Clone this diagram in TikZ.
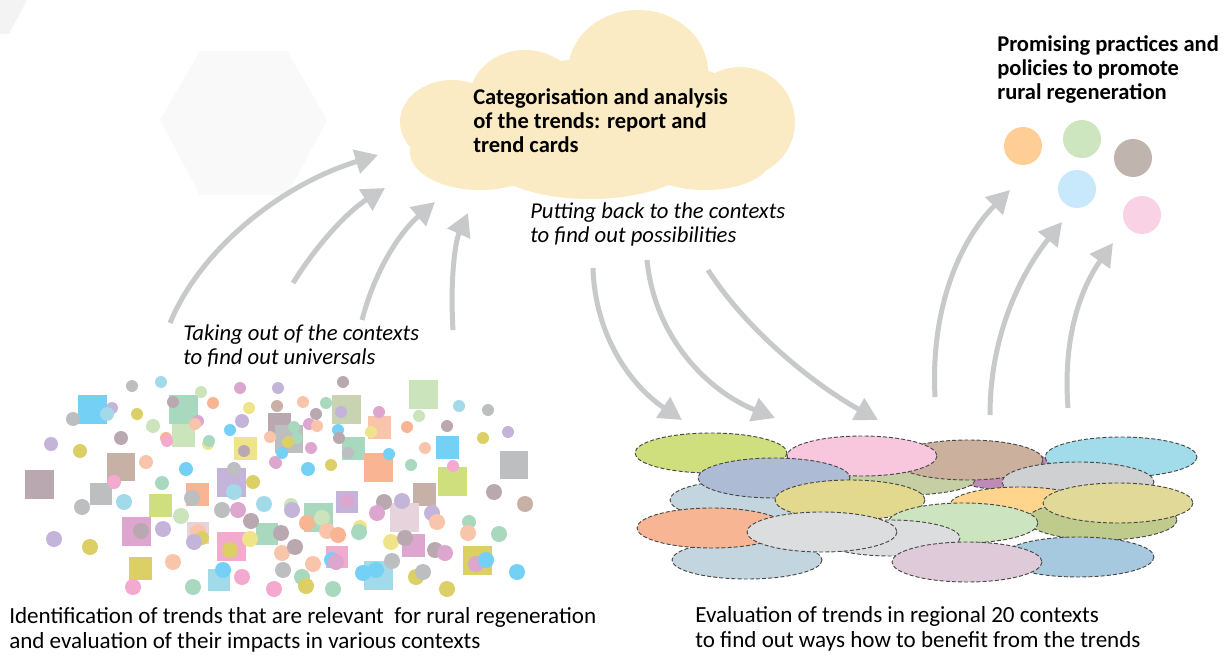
\documentclass[tikz,border=0pt]{standalone}
\usepackage{fontspec}
\setmainfont{Carlito}
\usetikzlibrary{arrows.meta}

% scatter palette
\definecolor{gray}{HTML}{BDBEC0}
\definecolor{lb}{HTML}{A3DAE9}
\definecolor{sky}{HTML}{74D0F5}
\definecolor{lav}{HTML}{C4B4DA}
\definecolor{mauve}{HTML}{B9A8B0}
\definecolor{taupe}{HTML}{C7B1A7}
\definecolor{pink}{HTML}{F4A9CE}
\definecolor{orchid}{HTML}{DDA6CE}
\definecolor{peach}{HTML}{F8C5AB}
\definecolor{salmon}{HTML}{F8B493}
\definecolor{mint}{HTML}{A8D8BE}
\definecolor{lgreen}{HTML}{CCE4BB}
\definecolor{ygreen}{HTML}{CFDF7E}
\definecolor{olive}{HTML}{DBCF66}
\definecolor{pyellow}{HTML}{F0E48A}
\definecolor{sage}{HTML}{C8D3B2}
\definecolor{ppink}{HTML}{E6D3DB}
% context ellipses
\definecolor{eYgreen}{HTML}{D0DF7D}
\definecolor{ePink}{HTML}{F8C6DD}
\definecolor{eBluegray}{HTML}{AEBBD4}
\definecolor{eLblue}{HTML}{C3D6DF}
\definecolor{eYellow}{HTML}{E2D98E}
\definecolor{eOrange}{HTML}{F8B594}
\definecolor{eLgray}{HTML}{DCDDDF}
\definecolor{eBrown}{HTML}{CBB09D}
\definecolor{ePurple}{HTML}{BE8AB6}
\definecolor{eCyan}{HTML}{A2DCEA}
\definecolor{eGray}{HTML}{CFD0D2}
\definecolor{eOrange2}{HTML}{FFD58E}
\definecolor{eKhaki}{HTML}{E0D998}
\definecolor{eOlive}{HTML}{BECB8C}
\definecolor{eLgreen}{HTML}{CCE5C0}
\definecolor{eMauve}{HTML}{DECAD8}
\definecolor{eBlue}{HTML}{A7C9DF}
\definecolor{eSage}{HTML}{C5CFA3}
% practice dots
\definecolor{pOrange}{HTML}{FECE96}
\definecolor{pGreen}{HTML}{CDE6C0}
\definecolor{pTaupe}{HTML}{BFB5AE}
\definecolor{pBlue}{HTML}{C8E9FB}
\definecolor{pPink}{HTML}{F9D3E5}
% misc
\definecolor{cloudfill}{HTML}{FAEBC5}
\definecolor{arrowgray}{HTML}{C8C9CB}
\definecolor{hexA}{HTML}{F9F9F9}
\definecolor{hexB}{HTML}{F3F3F3}

\newcommand\scsq[4]{\fill[#4] ({#1-#3/2},{#2-#3/2}) rectangle ++(#3,#3);}
\newcommand\scdot[4]{\fill[#4] (#1,#2) circle[radius=#3];}
\newcommand\ctxell[5]{\draw[ctx,fill=#5] (#1,#2) ellipse[x radius=#3,y radius=#4];}

\begin{document}
\begin{tikzpicture}[x=0.75pt,y=-0.75pt,
  flow/.style={draw=arrowgray,line width=3.75pt,-{Triangle[length=17pt,width=18pt]}},
  ctx/.style={draw=black!72,line width=0.7pt,dash pattern=on 3pt off 1.6pt},
  caption/.style={anchor=base west,align=left,inner sep=0pt,font=\fontsize{17.3}{18.75}\selectfont},
  bold/.style={anchor=base west,align=left,inner sep=0pt,font=\fontsize{16.9}{18.2}\selectfont\bfseries},
  note/.style={anchor=base west,align=left,inner sep=0pt,font=\fontsize{17}{18}\selectfont\itshape},
  practice/.style={circle,minimum size=28.5pt,inner sep=0pt}]

\useasboundingbox[fill=white] (0,0) rectangle (1228,656);

% faint background hexagons
\fill[hexB] (0,0) -- (27,0) -- (9,34) -- (0,34) -- cycle;
\fill[hexA] (160,120) -- (200,51) -- (287,51) -- (327,120) -- (287,195) -- (200,195) -- cycle;

% cloud
\begin{scope}[fill=cloudfill]
  \fill (638,72) ellipse[x radius=70,y radius=62];
  \fill (525,100) ellipse[x radius=56,y radius=50];
  \fill (452,122) ellipse[x radius=52,y radius=42];
  \fill (480,152) ellipse[x radius=70,y radius=38];
  \fill (590,152) ellipse[x radius=110,y radius=47];
  \fill (740,122) ellipse[x radius=55,y radius=55];
  \fill (705,160) ellipse[x radius=65,y radius=30];
  \fill (610,120) ellipse[x radius=160,y radius=62];
\end{scope}
% the base anchor of a multi-line node sits on its last line
\node[bold] (cloudtext) at (473,153) {Categorisation and analysis\\of the trends: report and\\trend cards};

% trends scattered across contexts: squares
\scsq{92}{409}{29}{sky}
\scsq{183}{409}{29}{mint}
\scsq{183}{435}{23}{lgreen}
\scsq{245}{448}{23}{pyellow}
\scsq{121}{467}{28}{taupe}
\scsq{39}{484}{29}{mauve}
\scsq{101}{494}{22}{gray}
\scsq{160}{505}{23}{ygreen}
\scsq{197}{494}{23}{salmon}
\scsq{231}{482}{29}{lav}
\scsq{136}{531}{29}{orchid}
\scsq{198}{533}{22}{ppink}
\scsq{231}{546}{29}{pink}
\scsq{140}{568}{23}{olive}
\scsq{219}{580}{22}{lb}
\scsq{267}{534}{22}{mint}
\scsq{279}{424}{23}{mauve}
\scsq{289}{439}{28}{gray}
\scsq{423}{394}{29}{lgreen}
\scsq{346}{409}{29}{sage}
\scsq{379}{427}{23}{peach}
\scsq{353}{448}{23}{mint}
\scsq{447}{447}{23}{sky}
\scsq{378}{467}{29}{salmon}
\scsq{452}{481}{29}{ygreen}
\scsq{514}{465}{28}{gray}
\scsq{424}{494}{23}{taupe}
\scsq{347}{502}{22}{lav}
\scsq{318}{517}{29}{mint}
\scsq{404}{517}{29}{ppink}
\scsq{413}{545}{23}{orchid}
\scsq{337}{557}{22}{pink}
\scsq{477}{560}{29}{olive}
\scsq{378}{575}{29}{lb}

% trends scattered across contexts: dots
\scdot{132}{386}{6}{gray}
\scdot{161}{382}{6}{lb}
\scdot{201}{392}{6}{lgreen}
\scdot{240}{388}{6}{orchid}
\scdot{112}{408}{6}{lav}
\scdot{107}{414}{7}{lb}
\scdot{73}{419}{7}{gray}
\scdot{137}{414}{6}{olive}
\scdot{173}{402}{6}{mauve}
\scdot{213}{403}{6}{salmon}
\scdot{249}{408}{6}{pyellow}
\scdot{153}{426}{7}{lgreen}
\scdot{121}{438}{7}{mauve}
\scdot{198}{421}{6}{orchid}
\scdot{195}{424}{6}{peach}
\scdot{230}{430}{6}{sky}
\scdot{242}{421}{7}{lav}
\scdot{166}{438}{6}{salmon}
\scdot{167}{441}{6}{pink}
\scdot{208}{444}{6}{pyellow}
\scdot{209}{441}{6}{mint}
\scdot{51}{444}{7}{lav}
\scdot{80}{451}{7}{olive}
\scdot{146}{462}{7}{peach}
\scdot{186}{469}{7}{sky}
\scdot{244}{451}{6}{mauve}
\scdot{234}{469}{7}{gray}
\scdot{275}{462}{6}{orchid}
\scdot{270}{437}{6}{peach}
\scdot{114}{482}{7}{pink}
\scdot{162}{483}{7}{mint}
\scdot{124}{502}{8}{lb}
\scdot{82}{507}{8}{gray}
\scdot{192}{498}{8}{gray}
\scdot{234}{492}{8}{lb}
\scdot{253}{482}{7}{olive}
\scdot{181}{516}{8}{lgreen}
\scdot{222}{510}{8}{gray}
\scdot{238}{510}{8}{orchid}
\scdot{264}{504}{8}{lb}
\scdot{251}{521}{8}{mauve}
\scdot{54}{539}{8}{lav}
\scdot{90}{547}{8}{olive}
\scdot{141}{531}{8}{mauve}
\scdot{163}{529}{8}{lav}
\scdot{198}{532}{8}{peach}
\scdot{202}{538}{7}{olive}
\scdot{194}{542}{8}{lav}
\scdot{230}{550}{8}{olive}
\scdot{250}{539}{8}{pyellow}
\scdot{173}{562}{8}{peach}
\scdot{133}{587}{8}{pink}
\scdot{193}{587}{8}{mint}
\scdot{223}{570}{8}{sky}
\scdot{242}{577}{8}{pink}
\scdot{343}{382}{6}{mauve}
\scdot{278}{388}{6}{lav}
\scdot{303}{402}{6}{peach}
\scdot{326}{403}{6}{mint}
\scdot{277}{406}{6}{taupe}
\scdot{316}{414}{6}{mauve}
\scdot{309}{424}{6}{orchid}
\scdot{317}{426}{6}{peach}
\scdot{341}{412}{6}{lav}
\scdot{379}{412}{6}{orchid}
\scdot{459}{406}{6}{lb}
\scdot{488}{410}{6}{gray}
\scdot{419}{416}{6}{lgreen}
\scdot{407}{427}{6}{salmon}
\scdot{447}{426}{6}{mauve}
\scdot{371}{432}{6}{pyellow}
\scdot{338}{430}{6}{sky}
\scdot{339}{438}{6}{mauve}
\scdot{508}{432}{6}{lav}
\scdot{483}{438}{6}{olive}
\scdot{294}{427}{6}{mint}
\scdot{297}{438}{6}{mint}
\scdot{288}{442}{6}{olive}
\scdot{311}{448}{6}{orchid}
\scdot{348}{453}{6}{gray}
\scdot{389}{454}{6}{sky}
\scdot{425}{448}{6}{peach}
\scdot{282}{453}{6}{sky}
\scdot{276}{463}{6}{orchid}
\scdot{331}{465}{6}{olive}
\scdot{411}{465}{6}{mint}
\scdot{308}{469}{7}{sky}
\scdot{453}{466}{6}{pink}
\scdot{494}{492}{8}{mauve}
\scdot{525}{504}{8}{taupe}
\scdot{291}{505}{7}{lgreen}
\scdot{292}{510}{8}{lav}
\scdot{347}{501}{7}{orchid}
\scdot{384}{502}{8}{mauve}
\scdot{377}{513}{8}{orchid}
\scdot{402}{501}{8}{lav}
\scdot{432}{513}{8}{lav}
\scdot{437}{522}{8}{peach}
\scdot{307}{523}{8}{salmon}
\scdot{322}{518}{8}{lgreen}
\scdot{327}{531}{8}{peach}
\scdot{338}{535}{8}{salmon}
\scdot{360}{527}{7}{pyellow}
\scdot{359}{532}{8}{mint}
\scdot{469}{522}{7}{mint}
\scdot{468}{533}{8}{peach}
\scdot{499}{534}{8}{mint}
\scdot{281}{533}{8}{mauve}
\scdot{282}{553}{8}{peach}
\scdot{295}{547}{8}{mauve}
\scdot{391}{542}{8}{pyellow}
\scdot{405}{538}{8}{mauve}
\scdot{435}{550}{8}{mauve}
\scdot{445}{553}{8}{orchid}
\scdot{283}{570}{8}{gray}
\scdot{313}{564}{8}{peach}
\scdot{302}{577}{8}{mint}
\scdot{306}{586}{8}{olive}
\scdot{332}{560}{8}{sky}
\scdot{336}{562}{8}{orchid}
\scdot{392}{561}{8}{gray}
\scdot{363}{573}{8}{sky}
\scdot{376}{570}{8}{sky}
\scdot{416}{577}{8}{olive}
\scdot{423}{572}{8}{gray}
\scdot{333}{589}{8}{mint}
\scdot{447}{589}{8}{olive}
\scdot{476}{564}{8}{orchid}
\scdot{486}{560}{8}{sky}
\scdot{517}{572}{8}{sky}
\scdot{274}{589}{8}{pink}

% regional contexts
\ctxell{1010}{472}{60}{18}{ePurple}
\ctxell{905}{480}{70}{15}{eSage}
\ctxell{968}{460}{75}{20}{eBrown}
\ctxell{1121}{457}{76}{20}{eCyan}
\ctxell{745}{500}{75}{20}{eLblue}
\ctxell{711}{453}{76}{20}{eYgreen}
\ctxell{862}{456}{75}{20}{ePink}
\ctxell{774}{478}{76}{20}{eBluegray}
\ctxell{1078}{482}{76}{20}{eGray}
\ctxell{1020}{505}{70}{18}{eOrange2}
\ctxell{1102}{520}{75}{20}{eOlive}
\ctxell{1118}{503}{75}{20}{eKhaki}
\ctxell{850}{500}{75}{20}{eYellow}
\ctxell{963}{523}{75}{20}{eLgreen}
\ctxell{890}{538}{70}{18}{eLgray}
\ctxell{747}{560}{75}{19}{eLblue}
\ctxell{712}{528}{75}{20}{eOrange}
\ctxell{822}{532}{75}{20}{eLgray}
\ctxell{1078}{557}{76}{20}{eBlue}
\ctxell{967}{562}{75}{20}{eMauve}

% promising practices
\node[practice,fill=pOrange] (p1) at (1023,146) {};
\node[practice,fill=pGreen]  (p2) at (1082,139) {};
\node[practice,fill=pTaupe]  (p3) at (1133,158) {};
\node[practice,fill=pBlue]   (p4) at (1077,189) {};
\node[practice,fill=pPink]   (p5) at (1142,215) {};

% texts (positions are last-line baselines)
\node[bold] (goal) at (997,100) {Promising practices and\\policies to promote\\rural regeneration};
\node[note] (takeout) at (183,364) {Taking out of the contexts\\to find out universals};
\node[note] (putback) at (530,243) {Putting back to the contexts\\to find out possibilities};
\node[caption] (identify) at (9,648) {Identification of trends that are relevant\ \ for rural regeneration\\and evaluation of their impacts in various contexts};
\node[caption] (evaluate) at (695,647) {Evaluation of trends in regional 20 contexts\\to find out ways how to benefit from the trends};

% arrow anchors
\coordinate (u1s) at (170,323); \coordinate (u1e) at (378,155);
\coordinate (u2s) at (293,283); \coordinate (u2e) at (385,188);
\coordinate (u3s) at (362,320); \coordinate (u3e) at (435,202);
\coordinate (u4s) at (453,330); \coordinate (u4e) at (468,213);
\coordinate (d1s) at (593,268); \coordinate (d1e) at (682,420);
\coordinate (d2s) at (647,260); \coordinate (d2e) at (775,418);
\coordinate (d3s) at (708,270); \coordinate (d3e) at (878,420);
\coordinate (r1s) at (935,397); \coordinate (r1e) at (1010,190);
\coordinate (r2s) at (990,415); \coordinate (r2e) at (1062,222);
\coordinate (r3s) at (1068,408); \coordinate (r3e) at (1113,243);

% taking out of the contexts
\draw[flow] (u1s) .. controls (200,250) and (280,185) .. (u1e);
\draw[flow] (u2s) .. controls (320,240) and (350,210) .. (u2e);
\draw[flow] (u3s) .. controls (375,270) and (400,232) .. (u3e);
\draw[flow] (u4s) .. controls (450,280) and (455,242) .. (u4e);
% putting back to the contexts
\draw[flow] (d1s) .. controls (595,335) and (630,385) .. (d1e);
\draw[flow] (d2s) .. controls (655,340) and (710,392) .. (d2e);
\draw[flow] (d3s) .. controls (750,335) and (820,388) .. (d3e);
% towards promising practices
\draw[flow] (r1s) .. controls (930,300) and (965,235) .. (r1e);
\draw[flow] (r2s) .. controls (990,330) and (1025,268) .. (r2e);
\draw[flow] (r3s) .. controls (1062,330) and (1085,282) .. (r3e);
\end{tikzpicture}
\end{document}
